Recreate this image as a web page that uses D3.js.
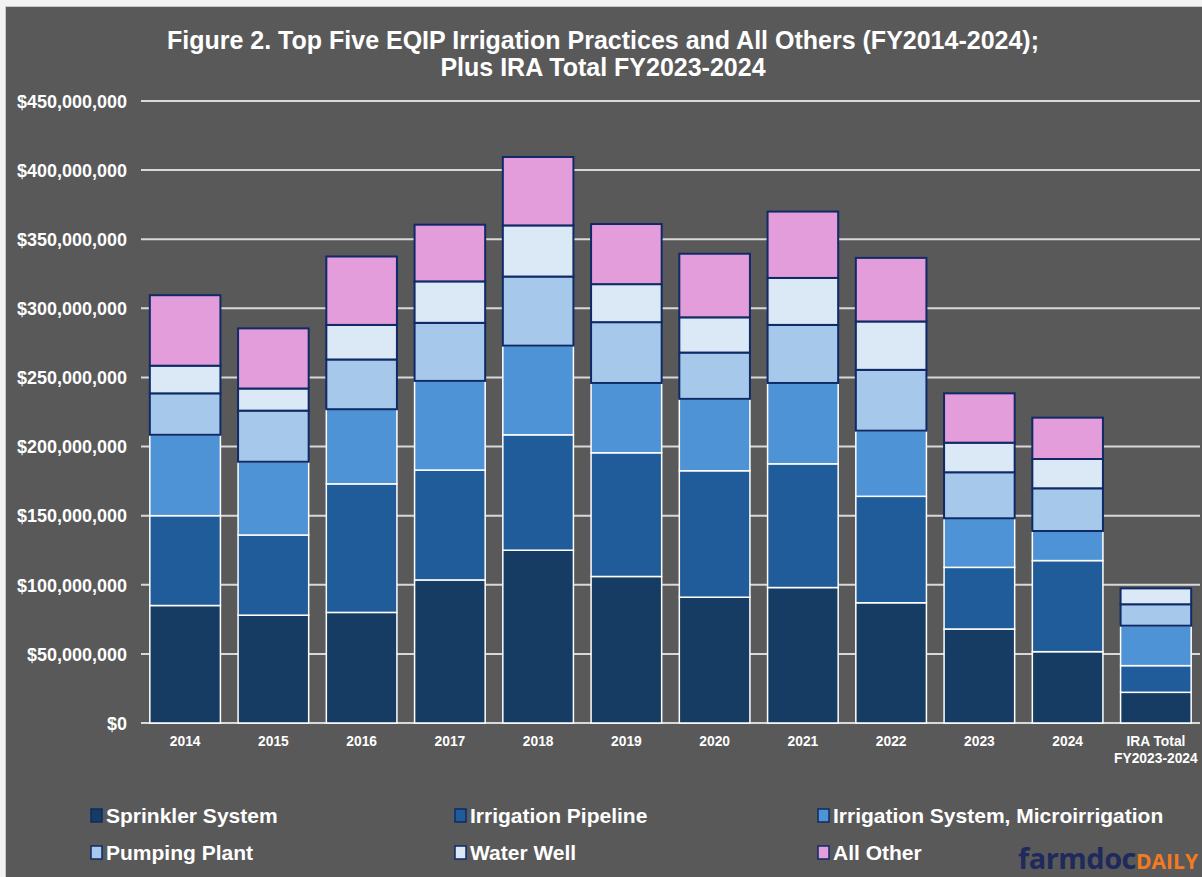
<!DOCTYPE html>
<html>
<head>
<meta charset="utf-8">
<script src="https://cdn.jsdelivr.net/npm/d3@7/dist/d3.min.js"></script>
<style>
  html, body { margin: 0; padding: 0; background: #ffffff; }
  svg { display: block; }
  text { font-family: "Liberation Sans", Arial, sans-serif; }
</style>
</head>
<body>
<svg id="chart" width="1202" height="877"></svg>
<script>
// ---- Data (values in $ millions) ----
const categories = ["2014","2015","2016","2017","2018","2019","2020","2021","2022","2023","2024","IRA Total|FY2023-2024"];
const seriesNames = ["Sprinkler System","Irrigation Pipeline","Irrigation System, Microirrigation","Pumping Plant","Water Well","All Other"];
const sprinkler   = [85, 78, 80, 103.5, 125, 106, 91, 98, 87, 68, 51.6, 22.2];
const pipeline    = [65, 58, 93, 79.5, 83.5, 89.5, 91.5, 89.5, 77, 44.6, 65.9, 19.3];
const micro       = [58.5, 53, 54, 64.5, 64.5, 50.5, 52, 58.5, 47.5, 35.5, 21.4, 28.9];
const pumping     = [30, 37, 36, 42, 50, 44, 33.5, 42, 44, 33.3, 30.9, 15.5];
const waterWell   = [20, 16, 25, 30, 37, 27.5, 25.5, 34, 35, 21.4, 21.2, 11.5];
const allOther    = [51, 43.5, 49.5, 41, 49.5, 43.5, 46, 48, 46, 35.7, 29.9, 0];
const yTicks      = [0, 50, 100, 150, 200, 250, 300, 350, 400, 450];

const colors  = ["#173c64", "#1f5c99", "#4e93d6", "#a6c9eb", "#dbe8f6", "#e39ddb"];
const strokes = ["#ffffff", "#ffffff", "#ffffff", "#0f2a66", "#0f2a66", "#0f2a66"];

const seriesData = [sprinkler, pipeline, micro, pumping, waterWell, allOther];
const table = categories.map((c, i) => {
  const row = { cat: c };
  seriesNames.forEach((s, j) => row[s] = seriesData[j][i]);
  return row;
});
const stacked = d3.stack().keys(seriesNames)(table);

const svg = d3.select("#chart");

// background panel
svg.append("rect").attr("x", 0).attr("y", 0).attr("width", 1202).attr("height", 877).attr("fill", "#f2f2f2");
svg.append("rect").attr("x", 5.5).attr("y", 6.5).attr("width", 1210).attr("height", 880)
  .attr("fill", "#595959").attr("stroke", "#c8c8c8").attr("stroke-width", 1);

// title
const title = svg.append("text").attr("x", 603).attr("text-anchor", "middle")
  .attr("fill", "#ffffff").attr("font-weight", "bold").attr("font-size", 25);
title.append("tspan").attr("x", 603).attr("y", 49).text("Figure 2. Top Five EQIP Irrigation Practices and All Others (FY2014-2024);");
title.append("tspan").attr("x", 603).attr("y", 76).text("Plus IRA Total FY2023-2024");

// scales
const x = d3.scaleBand().domain(categories).range([141, 1200]).paddingInner(0.2).paddingOuter(0.1);
const y = d3.scaleLinear().domain([0, 450]).range([723, 101]);

// gridlines
svg.append("g").selectAll("line").data(yTicks).join("line")
  .attr("x1", 141).attr("x2", 1200)
  .attr("y1", d => y(d)).attr("y2", d => y(d))
  .attr("stroke", "#d9d9d9").attr("stroke-width", 2);

// y axis labels
const fmt = d => "$" + d3.format(",")(d * 1e6);
const yAxis = d3.axisLeft(y).tickValues(yTicks).tickFormat(fmt).tickSize(0).tickPadding(0);
const gy = svg.append("g").attr("transform", "translate(127,0)").call(yAxis);
gy.select(".domain").remove();
gy.selectAll("text").attr("fill", "#ffffff").attr("font-weight", "bold").attr("font-size", 18)
  .attr("font-family", '"Liberation Sans", Arial, sans-serif').attr("dy", "0.35em");

// bars
const layers = svg.append("g").selectAll("g").data(stacked).join("g")
  .attr("fill", (d, i) => colors[i])
  .attr("stroke", (d, i) => strokes[i])
  .attr("stroke-width", (d, i) => i < 3 ? 1.5 : 2);
layers.selectAll("rect").data(d => d.filter(p => p[1] - p[0] > 0)).join("rect")
  .attr("x", d => x(d.data.cat))
  .attr("width", x.bandwidth())
  .attr("y", d => y(d[1]))
  .attr("height", d => y(d[0]) - y(d[1]));

// x axis labels
const xAxis = d3.axisBottom(x).tickSize(0).tickPadding(0).tickFormat(() => "");
const gx = svg.append("g").attr("transform", "translate(0,723)").call(xAxis);
gx.select(".domain").remove();
gx.selectAll(".tick text").each(function(d) {
  const t = d3.select(this).attr("fill", "#ffffff").attr("font-weight", "bold").attr("font-size", 13.8)
    .attr("font-family", '"Liberation Sans", Arial, sans-serif').attr("y", 0).attr("dy", null);
  d.split("|").forEach((line, k) => {
    t.append("tspan").attr("x", 0).attr("y", 23 + k * 17).text(line);
  });
});

// legend
const legendX = [91, 455, 818];
const legendY = [816, 853];
const lg = svg.append("g").selectAll("g").data(seriesNames).join("g")
  .attr("transform", (d, i) => `translate(${legendX[i % 3]},${legendY[Math.floor(i / 3)]})`);
lg.append("rect").attr("x", 0).attr("y", -7).attr("width", 11).attr("height", 13)
  .attr("fill", (d, i) => colors[i]).attr("stroke", "#0f2a66").attr("stroke-width", 1.5);
lg.append("text").attr("x", 15).attr("y", 0).attr("dy", "0.35em")
  .attr("fill", "#ffffff").attr("font-weight", "bold").attr("font-size", 21)
  .text(d => d);

// logo
const logo = svg.append("text").attr("x", 1198).attr("y", 869).attr("text-anchor", "end").attr("font-weight", "bold");
logo.append("tspan").attr("fill", "#1f2a5c").attr("font-size", 29).attr("font-family", '"Open Sans", "DejaVu Sans", sans-serif').attr("letter-spacing", -0.5).text("farmdoc");
logo.append("tspan").attr("fill", "#f47a1f").attr("font-size", 21).attr("font-family", '"Open Sans", "DejaVu Sans", sans-serif').text("DAILY");
</script>
</body>
</html>
